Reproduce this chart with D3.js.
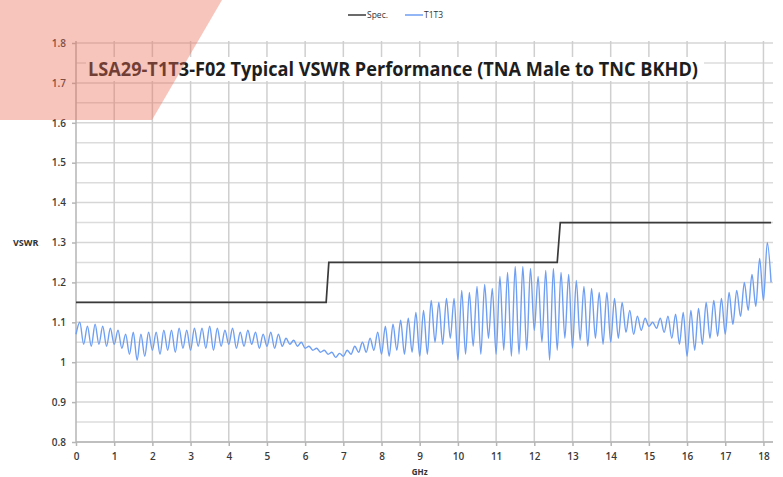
<!DOCTYPE html>
<html>
<head>
<meta charset="utf-8">
<script src="https://cdn.jsdelivr.net/npm/d3@7"></script>
<style>
  body { margin: 0; background: #fff; }
  svg { display: block; font-family: "Open Sans", "Liberation Sans", sans-serif; }
</style>
</head>
<body>
<svg id="chart" width="783" height="477"></svg>
<script>
// Spec. limit (step line), GHz / VSWR
const specFreq = [0, 6.55, 6.62, 12.6, 12.68, 18.2];
const specVswr = [1.15, 1.15, 1.25, 1.25, 1.35, 1.35];

// T1T3 measured trace, one row per GHz, samples every 0.1 GHz
const t1t3Rows = [
  [1.07, 1.10, 1.045, 1.09, 1.04, 1.095, 1.045, 1.09, 1.04, 1.085],
  [1.045, 1.08, 1.035, 1.07, 1.02, 1.075, 1.005, 1.07, 1.015, 1.075],
  [1.03, 1.075, 1.02, 1.08, 1.03, 1.08, 1.025, 1.085, 1.035, 1.08],
  [1.03, 1.085, 1.04, 1.085, 1.035, 1.09, 1.03, 1.085, 1.04, 1.08],
  [1.045, 1.085, 1.035, 1.075, 1.04, 1.08, 1.045, 1.075, 1.035, 1.07],
  [1.04, 1.075, 1.035, 1.07, 1.04, 1.06, 1.045, 1.055, 1.04, 1.05],
  [1.035, 1.04, 1.03, 1.035, 1.025, 1.03, 1.02, 1.025, 1.012, 1.022],
  [1.015, 1.03, 1.02, 1.04, 1.025, 1.05, 1.025, 1.06, 1.03, 1.075],
  [1.02, 1.09, 1.015, 1.095, 1.03, 1.105, 1.02, 1.11, 1.025, 1.125],
  [1.015, 1.13, 1.02, 1.155, 1.05, 1.15, 1.045, 1.16, 1.06, 1.16],
  [1.005, 1.18, 1.02, 1.175, 1.04, 1.19, 1.02, 1.195, 1.06, 1.185],
  [1.02, 1.215, 1.03, 1.225, 1.015, 1.24, 1.02, 1.24, 1.03, 1.235],
  [1.08, 1.215, 1.05, 1.23, 1.005, 1.235, 1.03, 1.225, 1.06, 1.22],
  [1.035, 1.205, 1.055, 1.19, 1.04, 1.185, 1.06, 1.175, 1.045, 1.175],
  [1.05, 1.16, 1.06, 1.15, 1.075, 1.13, 1.07, 1.115, 1.08, 1.11],
  [1.09, 1.10, 1.085, 1.11, 1.075, 1.115, 1.06, 1.12, 1.045, 1.125],
  [1.015, 1.13, 1.03, 1.135, 1.045, 1.15, 1.06, 1.155, 1.065, 1.16],
  [1.07, 1.175, 1.095, 1.18, 1.115, 1.20, 1.13, 1.22, 1.14, 1.26],
  [1.155, 1.30, 1.20]
];

const xTicks = d3.range(0, 19, 1);
const yTicks = [0.8, 0.9, 1, 1.1, 1.2, 1.3, 1.4, 1.5, 1.6, 1.7, 1.8];
const yMinor = [0.85, 0.95, 1.05, 1.15, 1.25, 1.35, 1.45, 1.55, 1.65, 1.75];
const titleText = "LSA29-T1T3-F02 Typical VSWR Performance (TNA Male to TNC BKHD)";

const specData = specFreq.map((f, i) => ({ f, v: specVswr[i] }));
const t1t3Data = [];
t1t3Rows.forEach((row, g) => row.forEach((v, i) => t1t3Data.push({ f: g + i / 10, v })));

const svg = d3.select("#chart");
const margin = { top: 43, right: 10, bottom: 35, left: 76 };
const width = 783 - margin.left - margin.right;
const height = 477 - margin.top - margin.bottom;

const x = d3.scaleLinear().domain([0, 18.25]).range([0, width]);
const y = d3.scaleLinear().domain([0.8, 1.8]).range([height, 0]);

const g = svg.append("g").attr("transform", `translate(${margin.left},${margin.top})`);

// grid
g.append("g").selectAll("line").data(yMinor).enter().append("line")
  .attr("x1", 0).attr("x2", width)
  .attr("y1", d => y(d)).attr("y2", d => y(d))
  .attr("stroke", "#dcdcdc").attr("stroke-width", 1.5);

g.append("g").selectAll("line").data(yTicks).enter().append("line")
  .attr("x1", 0).attr("x2", width)
  .attr("y1", d => y(d)).attr("y2", d => y(d))
  .attr("stroke", "#d6d6d6").attr("stroke-width", 1.5);

g.append("g").selectAll("line").data(xTicks.slice(1)).enter().append("line")
  .attr("x1", d => x(d)).attr("x2", d => x(d))
  .attr("y1", -2).attr("y2", height)
  .attr("stroke", "#cfcfcf").attr("stroke-width", 1.5);

// axes
const yAxis = g.append("g")
  .call(d3.axisLeft(y).tickValues(yTicks).tickSize(4).tickPadding(6)
    .tickFormat(d => d === 1 ? "1" : d3.format(".1f")(d)));
const xAxis = g.append("g")
  .attr("transform", `translate(0,${height})`)
  .call(d3.axisBottom(x).tickValues(xTicks).tickSize(4).tickPadding(7).tickFormat(d3.format("d")));

[yAxis, xAxis].forEach(a => {
  a.select(".domain").attr("stroke", "#b5b5b5").attr("stroke-width", 1.5);
  a.selectAll(".tick line").attr("stroke", "#b5b5b5").attr("stroke-width", 1.5);
  a.selectAll("text").attr("fill", "#3a3a3a").style("font-size", "10px")
    .style("font-weight", "600")
    .style("font-family", "'Open Sans', sans-serif");
});
xAxis.select(".domain").attr("d", `M0,0H${width}`);
yAxis.select(".domain").attr("d", `M0,${height}V-2`);

// title with white box
const titleG = g.append("g");
titleG.append("rect")
  .attr("x", 10).attr("y", 14).attr("width", 618).attr("height", 24)
  .attr("fill", "#fff");
titleG.append("text")
  .attr("x", 12).attr("y", 33)
  .attr("textLength", 610).attr("lengthAdjust", "spacingAndGlyphs")
  .style("font-size", "20px").style("font-weight", "bold")
  .attr("fill", "#1e1e1e")
  .text(titleText);

// series
const line = d3.line().x(d => x(d.f)).y(d => y(d.v));

g.append("path")
  .datum(t1t3Data)
  .attr("fill", "none")
  .attr("stroke", "#6f9ff3")
  .attr("stroke-width", 1.4)
  .attr("d", line.curve(d3.curveMonotoneX));

g.append("path")
  .datum(specData)
  .attr("fill", "none")
  .attr("stroke", "#3a3a3a")
  .attr("stroke-width", 1.7)
  .attr("d", d3.line().x(d => x(d.f)).y(d => y(d.v)));

// axis titles
svg.append("text")
  .attr("x", 13).attr("y", 246)
  .style("font-size", "9px").style("font-weight", "bold")
  .attr("fill", "#333")
  .text("VSWR");
svg.append("text")
  .attr("x", margin.left + x(9)).attr("y", 475)
  .attr("text-anchor", "middle")
  .style("font-size", "8px").style("font-weight", "bold")
  .attr("fill", "#333")
  .text("GHz");

// legend
const legend = svg.append("g").style("font-size", "8.5px");
const legendItems = [
  { name: "Spec.", color: "#3a3a3a", x: 348 },
  { name: "T1T3", color: "#6f9ff3", x: 405 }
];
legendItems.forEach(it => {
  legend.append("line")
    .attr("x1", it.x).attr("x2", it.x + 18)
    .attr("y1", 15).attr("y2", 15)
    .attr("stroke", it.color).attr("stroke-width", 1.5);
  legend.append("text")
    .attr("x", it.x + 19).attr("y", 18)
    .attr("fill", "#333")
    .text(it.name);
});

// salmon slide decoration in the corner
svg.append("polygon")
  .attr("points", "0,0 222,0 152,120 0,120")
  .attr("fill", "rgb(235,110,85)")
  .attr("opacity", 0.4);
</script>
</body>
</html>
